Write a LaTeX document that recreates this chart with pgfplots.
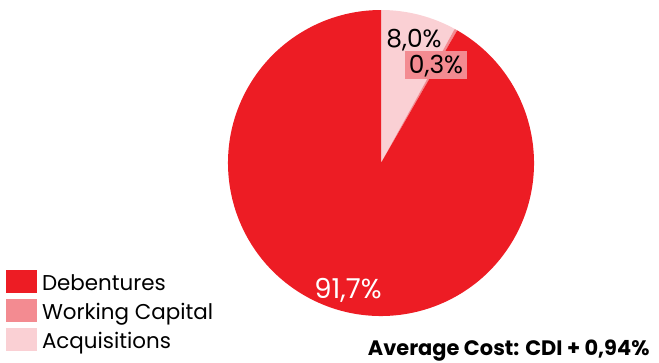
\documentclass[border=0pt]{standalone}
\usepackage{fontspec}
\setmainfont{Poppins}
\usepackage{pgfplots}
\pgfplotsset{compat=1.18}
\definecolor{cDeb}{HTML}{ED1C24}
\definecolor{cWC}{HTML}{F38B91}
\definecolor{cAcq}{HTML}{FAD0D4}
\begin{document}
\begin{tikzpicture}
\begin{axis}[
  name=pie,
  width=659bp, height=363bp, scale only axis,
  xmin=0, xmax=659, ymin=0, ymax=363, y dir=reverse,
  hide axis, clip=false,
  legend cell align=left,
  legend style={at={(axis cs:6,267)}, anchor=north west, draw=none, fill=none,
    font=\fontsize{21.5}{24}\selectfont, inner sep=0pt, outer sep=0pt,
    nodes={inner sep=0pt}, cells={anchor=base west},
    column sep=5bp, row sep=0bp},
  legend image code/.code={\path[draw=none,fill=none] (0bp,-6bp) -- (0bp,23bp);
     \fill[#1,draw=none] (0bp,-3bp) rectangle (31bp,20bp);},
]
% slice values (percent), clockwise from the top
\pgfmathsetmacro{\start}{90}
\foreach \v/\c in {8.0/cAcq, 0.3/cWC, 91.7/cDeb}{
  \pgfmathsetmacro{\stop}{\start-3.6*\v}
  \edef\tmp{\noexpand\fill[\c] (axis cs:381,163) -- ++(\start:153bp)
     arc[start angle=\start, end angle=\stop, radius=153bp] -- cycle;}
  \tmp
  \global\let\start\stop
}
\addlegendimage{cDeb}\addlegendentry{Debentures}
\addlegendimage{cWC}\addlegendentry{Working Capital}
\addlegendimage{cAcq}\addlegendentry{Acquisitions}
\node[anchor=base, font=\fontsize{25}{28}\selectfont] at (axis cs:414,47) {8,0\%};
\node[anchor=base, font=\fontsize{25}{28}\selectfont, fill=cWC,
  text height=18bp, text depth=2bp, inner ysep=4bp, inner xsep=4bp] at (axis cs:436,73) {0,3\%};
\node[anchor=base, font=\fontsize{27.5}{30}\selectfont, text=white] at (axis cs:348,298) {91,7\%};
\node[anchor=base east, font=\fontsize{21}{24}\selectfont\bfseries] at (axis cs:653,355) {Average Cost: CDI + 0,94\%};
\end{axis}
\pgfresetboundingbox
\path (pie.south west) rectangle (pie.north east);
\end{tikzpicture}
\end{document}
